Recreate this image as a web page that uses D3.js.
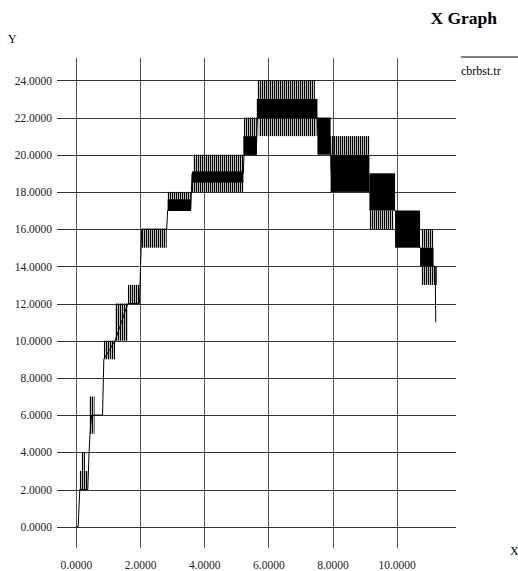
<!DOCTYPE html>
<html lang="en">
<head>
    <title>X Graph</title>
    <style>
        body { margin: 0; background: #fff; }
        text { font-family: "Liberation Serif", "Times New Roman", "DejaVu Serif", serif; }
        .grid text { font-size: 11.5px; fill: #222; }
        .xgrid line { stroke: #555; }
        .ygrid line { stroke: #333; }
        .trace { fill: none; stroke: #000; stroke-width: 1; }
    </style>
    <script src="https://d3js.org/d3.v7.min.js"></script>
</head>
<body>
    <svg></svg>
    <script>
        // tick labels
        var xTicks = [0, 2, 4, 6, 8, 10];
        var yTicks = [0, 2, 4, 6, 8, 10, 12, 14, 16, 18, 20, 22, 24];

        // the line running between the blocks (x, y)
        var traceX = [0, 0.07, 0.12, 0.37, 0.41, 0.44, 0.49, 0.55, 0.83, 0.87, 1.22, 1.62, 1.98, 2.05, 2.83, 2.86, 3.58, 3.62, 5.22, 5.24, 5.62, 5.66, 7.52, 7.55, 7.93, 7.96, 9.15, 9.95, 10.73, 11.15, 11.20, 11.22];
        var traceY = [0, 0, 2, 2, 4, 5, 6, 6, 6, 9, 10, 12, 12, 16, 16, 17, 17, 19, 19, 20, 20, 22, 22, 21, 21, 19, 18, 17, 15, 14, 14, 11];

        // blocks where the value flips so fast the trace is solid black
        var solidX0 = [2.86, 3.62, 5.22, 5.64, 7.53, 7.94, 9.15, 9.95, 10.73];
        var solidX1 = [3.58, 5.22, 5.64, 7.53, 7.94, 9.15, 9.95, 10.73, 11.15];
        var solidLo = [17.0, 18.5, 20.0, 22.0, 20.0, 18.0, 17.0, 15.0, 14.0];
        var solidHi = [17.6, 19.1, 21.0, 23.0, 22.0, 20.0, 19.0, 17.0, 15.0];

        // blocks of separate spikes
        var spikeX0 = [0.12, 0.18, 0.42, 0.87, 1.22, 1.62, 2.05, 2.86, 3.66, 3.62, 5.24, 5.66, 5.70, 7.96, 9.16, 10.78, 10.78];
        var spikeX1 = [0.37, 0.28, 0.58, 1.22, 1.62, 1.98, 2.83, 3.58, 5.22, 5.22, 5.64, 7.45, 7.50, 9.15, 9.90, 11.14, 11.25];
        var spikeLo = [2, 3, 5, 9, 10, 12, 15, 17, 19, 18, 21, 23, 21, 20, 16, 15, 13];
        var spikeHi = [3, 4, 7, 10, 12, 13, 16, 18, 20, 19, 22, 24, 22, 21, 17, 16, 14];

        var width = 518, height = 571;
        var plot = {left: 57, right: 456, top: 58, bottom: 548};

        var x = d3.scaleLinear().domain([-0.59, 11.85]).range([plot.left, plot.right]);
        var y = d3.scaleLinear().domain([-1.145, 25.2]).range([plot.bottom, plot.top]);

        var svg = d3.select("svg")
            .attr("width", width)
            .attr("height", height);

        // vertical hatch for the spike blocks
        svg.append("defs").append("pattern")
            .attr("id", "spikes")
            .attr("patternUnits", "userSpaceOnUse")
            .attr("width", 2)
            .attr("height", 10)
            .append("rect")
            .attr("width", 1.25)
            .attr("height", 10)
            .attr("fill", "#000");

        // grid
        svg.append("g")
            .attr("class", "grid xgrid")
            .attr("transform", "translate(0," + plot.bottom + ")")
            .call(d3.axisBottom(x).tickValues(xTicks).tickFormat(d3.format(".4f"))
                .tickSize(-(plot.bottom - plot.top)).tickPadding(13))
            .call(g => g.select(".domain").remove());

        svg.append("g")
            .attr("class", "grid ygrid")
            .attr("transform", "translate(" + plot.left + ",0)")
            .call(d3.axisLeft(y).tickValues(yTicks).tickFormat(d3.format(".4f"))
                .tickSize(-(plot.right - plot.left)).tickPadding(5))
            .call(g => g.select(".domain").remove());

        svg.selectAll(".grid").attr("font-family", null).attr("font-size", null);
        svg.selectAll(".grid line").attr("shape-rendering", "crispEdges");

        // spike blocks
        svg.append("g").selectAll("rect")
            .data(spikeX0)
            .join("rect")
            .attr("x", (d, i) => x(d))
            .attr("y", (d, i) => y(spikeHi[i]))
            .attr("width", (d, i) => x(spikeX1[i]) - x(d))
            .attr("height", (d, i) => y(spikeLo[i]) - y(spikeHi[i]))
            .attr("fill", "url(#spikes)");

        // solid blocks
        svg.append("g").selectAll("rect")
            .data(solidX0)
            .join("rect")
            .attr("x", (d, i) => x(d))
            .attr("y", (d, i) => y(solidHi[i]))
            .attr("width", (d, i) => x(solidX1[i]) - x(d))
            .attr("height", (d, i) => y(solidLo[i]) - y(solidHi[i]))
            .attr("fill", "#000");

        // trace
        var line = d3.line()
            .x((d, i) => x(d))
            .y((d, i) => y(traceY[i]));
        svg.append("path")
            .attr("class", "trace")
            .attr("d", line(traceX));

        // titles and labels
        svg.append("text")
            .attr("x", 497).attr("y", 24)
            .attr("text-anchor", "end")
            .attr("font-size", "17.5px")
            .attr("font-weight", "bold")
            .text("X Graph");

        svg.append("text")
            .attr("x", 8).attr("y", 43)
            .attr("font-size", "12px")
            .text("Y");

        svg.append("text")
            .attr("x", 510).attr("y", 555)
            .attr("font-size", "12px")
            .text("X");

        // legend
        svg.append("line")
            .attr("x1", 461).attr("x2", 518)
            .attr("y1", 57).attr("y2", 57)
            .attr("stroke", "#555")
            .attr("stroke-width", 1.5);
        svg.append("text")
            .attr("x", 461).attr("y", 75)
            .attr("font-size", "12px")
            .text("cbrbst.tr");
    </script>
</body>
</html>
